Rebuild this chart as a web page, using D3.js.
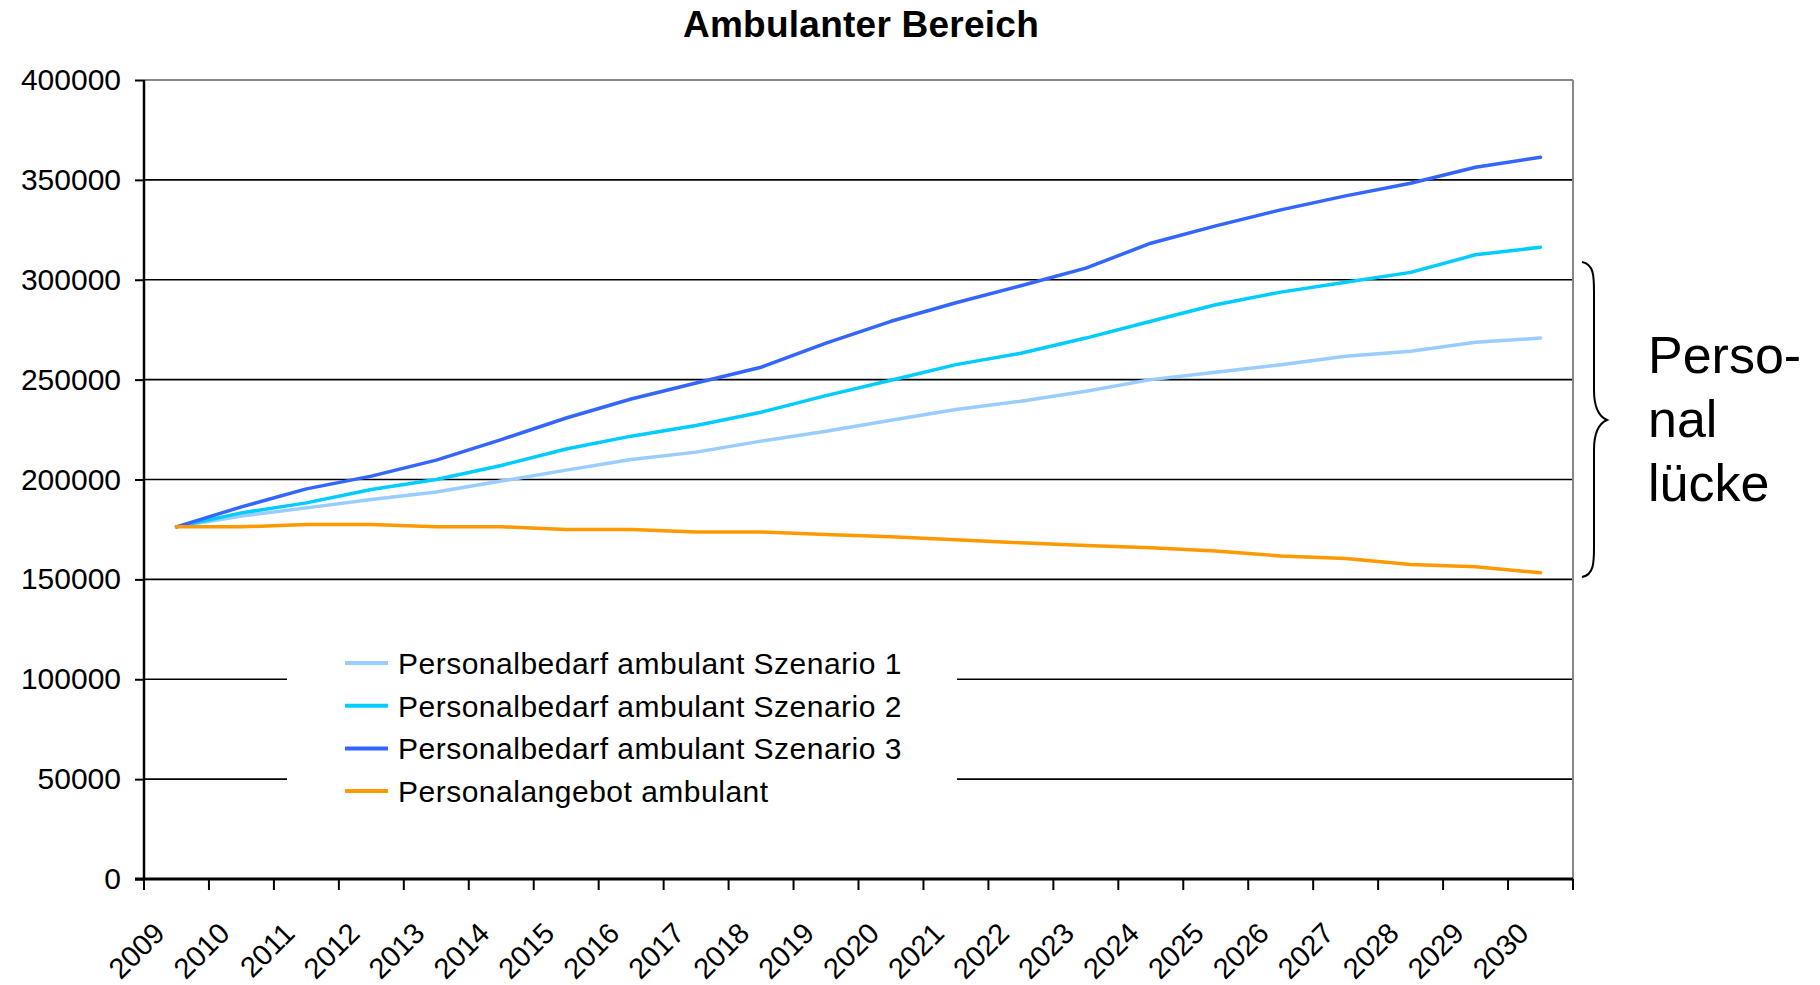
<!DOCTYPE html>
<head>
  <meta charset="utf-8">
  <script src="https://d3js.org/d3.v7.min.js"></script>
  <style>
    body {
      margin: 0; background: #fff;
      font-family: "Liberation Sans", Arial, sans-serif;
    }
    .title { font-size: 37px; font-weight: bold; letter-spacing: 0.25px; }
    .y-axis text { font-size: 30px; }
    .x-label { font-size: 29px; }
    .grid { stroke: #000; stroke-width: 1.6px; }
    .legend text { font-size: 30px; letter-spacing: 0.5px; }
    .gap text { font-size: 52px; }
  </style>
</head>

<body>
  <script>
    var years = ["2009", "2010", "2011", "2012", "2013", "2014", "2015", "2016", "2017", "2018", "2019",
                 "2020", "2021", "2022", "2023", "2024", "2025", "2026", "2027", "2028", "2029", "2030"];

    var szenario1 = [176300, 181700, 185800, 190000, 193700, 199200, 204700, 210000, 213700, 219200, 224200,
                     229700, 235000, 239200, 244200, 250000, 253700, 257500, 261700, 264200, 268700, 270800];
    var szenario2 = [176300, 183300, 188300, 195000, 200000, 207000, 215300, 221700, 227000, 233700, 242000,
                     249700, 257500, 263200, 270800, 279200, 287500, 293800, 298700, 303700, 312500, 316300];
    var szenario3 = [176300, 186300, 195300, 201700, 209700, 220000, 230800, 240300, 248300, 256200, 268300,
                     279200, 288500, 297000, 305800, 318300, 327000, 335000, 342000, 348300, 356300, 361300];
    var angebot   = [176300, 176300, 177500, 177500, 176300, 176300, 175000, 175000, 173700, 173700, 172500,
                     171300, 169800, 168300, 167000, 165800, 164200, 161700, 160500, 157500, 156300, 153300];

    var yTicks = [0, 50000, 100000, 150000, 200000, 250000, 300000, 350000, 400000];

    var seriesNames = ["Personalbedarf ambulant Szenario 1", "Personalbedarf ambulant Szenario 2",
                       "Personalbedarf ambulant Szenario 3", "Personalangebot ambulant"];
    var seriesColors = ["#99CCFF", "#00CCFF", "#3366FF", "#FF9900"];
    var seriesValues = [szenario1, szenario2, szenario3, angebot];

    var gapLabel = ["Perso-", "nal", "lücke"];

    var width = 1820, height = 985;
    var plot = {left: 144, right: 1573, top: 80, bottom: 879};

    var svg = d3.select("body").append("svg")
      .attr("width", width)
      .attr("height", height);

    var x = d3.scaleBand()
      .domain(years)
      .range([plot.left, plot.right]);

    var y = d3.scaleLinear()
      .domain([0, 400000])
      .range([plot.bottom, plot.top]);

    var bw = x.bandwidth();

    svg.append("text")
      .attr("class", "title")
      .attr("x", 861)
      .attr("y", 37)
      .attr("text-anchor", "middle")
      .text("Ambulanter Bereich");

    // gridlines (top one is the grey frame)
    svg.append("g").selectAll("line")
      .data(yTicks.filter(function(d) { return d > 0 && d < 400000; }))
      .enter().append("line")
        .attr("class", "grid")
        .attr("x1", plot.left)
        .attr("x2", plot.right)
        .attr("y1", function(d) { return y(d); })
        .attr("y2", function(d) { return y(d); });

    svg.append("line")
      .attr("x1", plot.left).attr("x2", plot.right)
      .attr("y1", y(400000)).attr("y2", y(400000))
      .attr("stroke", "#888").attr("stroke-width", 2);

    svg.append("line")
      .attr("x1", plot.right).attr("x2", plot.right)
      .attr("y1", plot.top).attr("y2", plot.bottom)
      .attr("stroke", "#888").attr("stroke-width", 2);

    // y axis
    var yAxis = svg.append("g")
      .attr("class", "y-axis")
      .attr("transform", "translate(" + plot.left + ",0)")
      .call(d3.axisLeft(y).tickValues(yTicks).tickSize(9).tickPadding(14).tickFormat(d3.format("d")));
    yAxis.select(".domain").attr("stroke", "#000").attr("stroke-width", 2.5).attr("d", "M0," + plot.top + "V" + plot.bottom);
    yAxis.selectAll(".tick line").attr("stroke", "#000").attr("stroke-width", 2);
    yAxis.selectAll("text").attr("fill", "#000").style("font-family", "inherit");

    // x axis
    svg.append("line")
      .attr("x1", plot.left - 9).attr("x2", plot.right)
      .attr("y1", plot.bottom).attr("y2", plot.bottom)
      .attr("stroke", "#000").attr("stroke-width", 3);

    var bounds = years.map(function(d) { return x(d); }).concat([x(years[years.length - 1]) + bw]);
    svg.append("g").selectAll("line")
      .data(bounds)
      .enter().append("line")
        .attr("x1", function(d) { return d; })
        .attr("x2", function(d) { return d; })
        .attr("y1", plot.bottom)
        .attr("y2", plot.bottom + 11)
        .attr("stroke", "#000")
        .attr("stroke-width", 2);

    svg.append("g").selectAll("text")
      .data(years)
      .enter().append("text")
        .attr("class", "x-label")
        .attr("text-anchor", "end")
        .attr("transform", function(d) {
          return "translate(" + (x(d) + bw / 2 - 10) + "," + (plot.bottom + 56) + ") rotate(-45)";
        })
        .text(function(d) { return d; });

    // lines
    var line = d3.line()
      .x(function(d, i) { return x(years[i]) + bw / 2; })
      .y(function(d) { return y(d); });

    svg.append("g").selectAll("path")
      .data(seriesValues)
      .enter().append("path")
        .attr("d", line)
        .attr("fill", "none")
        .attr("stroke", function(d, i) { return seriesColors[i]; })
        .attr("stroke-width", 3.5)
        .attr("stroke-linejoin", "round")
        .attr("stroke-linecap", "round");

    // legend
    var legend = svg.append("g").attr("class", "legend");
    legend.append("rect")
      .attr("x", 287).attr("y", 632)
      .attr("width", 670).attr("height", 184)
      .attr("fill", "#fff");

    var item = legend.selectAll("g")
      .data(seriesNames)
      .enter().append("g")
        .attr("transform", function(d, i) { return "translate(0," + (663 + i * 42.7) + ")"; });

    item.append("line")
      .attr("x1", 345).attr("x2", 388)
      .attr("stroke", function(d, i) { return seriesColors[i]; })
      .attr("stroke-width", 4);

    item.append("text")
      .attr("x", 398)
      .attr("dy", "0.36em")
      .text(function(d) { return d; });

    // brace for the gap
    var gap = svg.append("g").attr("class", "gap");
    var bx = 1582, bt = 262, bb = 577, bm = 420;
    gap.append("path")
      .attr("d", "M" + bx + "," + bt +
        " C" + (bx + 12) + "," + (bt + 2) + " " + (bx + 12) + "," + (bt + 15) + " " + (bx + 12) + "," + (bt + 30) +
        " L" + (bx + 12) + "," + (bm - 30) +
        " C" + (bx + 12) + "," + (bm - 12) + " " + (bx + 18) + "," + (bm - 3) + " " + (bx + 25) + "," + bm +
        " C" + (bx + 18) + "," + (bm + 3) + " " + (bx + 12) + "," + (bm + 12) + " " + (bx + 12) + "," + (bm + 30) +
        " L" + (bx + 12) + "," + (bb - 30) +
        " C" + (bx + 12) + "," + (bb - 15) + " " + (bx + 12) + "," + (bb - 2) + " " + bx + "," + bb)
      .attr("fill", "none")
      .attr("stroke", "#000")
      .attr("stroke-width", 2);

    gap.selectAll("text")
      .data(gapLabel)
      .enter().append("text")
        .attr("x", 1648)
        .attr("y", function(d, i) { return 373 + i * 64; })
        .text(function(d) { return d; });
  </script>
</body>
